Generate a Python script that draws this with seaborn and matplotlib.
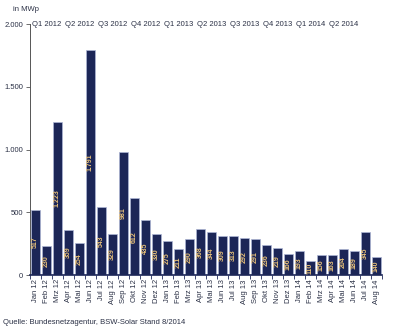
import matplotlib
matplotlib.use("Agg")
import matplotlib.pyplot as plt
import seaborn as sns
import pandas as pd
import numpy as np

months = ["Jan 12", "Feb 12", "Mrz 12", "Apr 12", "Mai 12", "Jun 12", "Jul 12", "Aug 12",
          "Sep 12", "Okt 12", "Nov 12", "Dez 12", "Jan 13", "Feb 13", "Mrz 13", "Apr 13",
          "Mai 13", "Jun 13", "Jul 13", "Aug 13", "Sep 13", "Okt 13", "Nov 13", "Dez 13",
          "Jan 14", "Feb 14", "Mrz 14", "Apr 14", "Mai 14", "Jun 14", "Jul 14", "Aug 14"]
mwp = [517, 230, 1223, 359, 254, 1791, 543, 329, 981, 612, 435, 330, 275, 211, 290, 368,
       344, 309, 313, 292, 291, 236, 219, 166, 193, 110, 156, 163, 204, 189, 345, 140]
quarters = ["Q1 2012", "Q2 2012", "Q3 2012", "Q4 2012", "Q1 2013",
            "Q2 2013", "Q3 2013", "Q4 2013", "Q1 2014", "Q2 2014"]
yticks = [0, 500, 1000, 1500, 2000]

navy = "#1c2657"
text_col = "#2a3045"
label_col = "#e9c27a"

sns.set_theme(style="white")
plt.rcParams["font.family"] = ["Liberation Sans", "DejaVu Sans"]

df = pd.DataFrame({"Monat": months, "MWp": mwp})

fig = plt.figure(figsize=(4.0, 3.31), dpi=100)
ax = fig.add_axes([0.075, 0.169, 0.88, 0.758])

sns.barplot(data=df, x="Monat", y="MWp", color=navy, saturation=1, width=0.86,
            edgecolor="#aeb6d6", linewidth=0.5, ax=ax)

ax.set_xlim(-0.5, len(months) - 0.5)
ax.set_ylim(0, 2000)
ax.set_xlabel("")
ax.set_ylabel("")

# value labels inside the bars, rotated
for i, v in enumerate(mwp):
    txt = f"{v:,}".replace(",", ".")
    ax.text(i, v / 2, txt, rotation=90, ha="center", va="center",
            fontsize=5, color=label_col, fontweight="bold")

# y axis with German thousands separator
ax.set_yticks(yticks)
ax.set_yticklabels([f"{t:,}".replace(",", ".") for t in yticks], fontsize=5.5, color=text_col)
ax.tick_params(axis="y", which="major", direction="out", length=3, width=0.6,
               color="#555555", pad=2, left=True)

# x axis: month labels, separator ticks between bars
ax.set_xticks(range(len(months)))
ax.set_xticklabels(months, rotation=90, fontsize=5.5, color=text_col)
ax.tick_params(axis="x", which="major", length=0, pad=3)
ax.set_xticks(np.arange(-0.5, len(months), 1.0), minor=True)
ax.tick_params(axis="x", which="minor", direction="out", length=3, width=0.6,
               color=navy, bottom=True)

for side in ["top", "right"]:
    ax.spines[side].set_visible(False)
ax.spines["left"].set_color("#555555")
ax.spines["left"].set_linewidth(0.7)
ax.spines["bottom"].set_color(navy)
ax.spines["bottom"].set_linewidth(1.2)

# quarter headings along the top
for q, name in enumerate(quarters):
    ax.text(q * 3 - 0.3, 2000, name, ha="left", va="center",
            fontsize=5.5, color=text_col)

fig.text(0.032, 0.972, "in MWp", ha="left", va="center", fontsize=5.5, color=text_col)
fig.text(0.008, 0.025, "Quelle: Bundesnetzagentur, BSW-Solar Stand 8/2014",
         ha="left", va="center", fontsize=5.5, color=text_col)

fig.savefig("out.png", dpi=100)
